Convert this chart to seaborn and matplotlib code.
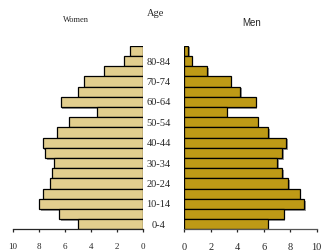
import matplotlib
matplotlib.use("Agg")
import matplotlib.pyplot as plt
import matplotlib.patheffects as pe
import seaborn as sns
import pandas as pd

# age groups, bottom to top
ages = ["0-4", "5-9", "10-14", "15-19", "20-24", "25-29", "30-34", "35-39",
        "40-44", "45-49", "50-54", "55-59", "60-64", "65-69", "70-74",
        "75-79", "80-84", "85+"]
women = [5.0, 6.4, 7.95, 7.7, 7.1, 6.95, 6.8, 7.5, 7.7, 6.6,
         5.7, 3.5, 6.3, 5.0, 4.5, 3.0, 1.4, 1.0]
men = [6.3, 7.5, 9.05, 8.7, 7.85, 7.4, 7.0, 7.4, 7.7, 6.35,
       5.55, 3.2, 5.4, 4.2, 3.5, 1.75, 0.55, 0.28]
xticks = [0, 2, 4, 6, 8, 10]

df = pd.DataFrame({"age": ages, "women": women, "men": men})
order = ages[::-1]

sns.set_style("white")
plt.rcParams["font.family"] = ["Liberation Serif", "DejaVu Serif"]

fig = plt.figure(figsize=(3.22, 2.52), dpi=100)
ax_w = fig.add_axes([0.0394, 0.0893, 0.4037, 0.729])
ax_m = fig.add_axes([0.5724, 0.0893, 0.4112, 0.729])

shadow = [pe.SimplePatchShadow(offset=(1.2, -1.2), shadow_rgbFace="#808080", alpha=0.8), pe.Normal()]

sns.barplot(data=df, x="women", y="age", order=order, orient="h", ax=ax_w,
            color="#E2CE8E", saturation=1, width=1, edgecolor="black", linewidth=0.9)
sns.barplot(data=df, x="men", y="age", order=order, orient="h", ax=ax_m,
            color="#BE9A16", saturation=1, width=1, edgecolor="black", linewidth=0.9)

for ax in (ax_w, ax_m):
    for p in ax.patches:
        p.set_path_effects(shadow)
    ax.set_xlim(0, 10)
    ax.set_ylim(len(ages) - 0.5, -0.5)
    ax.set_xticks(xticks)
    ax.set_xlabel("")
    ax.set_ylabel("")
    for s in ["top", "right", "left"]:
        ax.spines[s].set_visible(False)
    ax.spines["bottom"].set_linewidth(0.9)
    ax.tick_params(axis="x", bottom=True, direction="out", length=2.5, width=0.9)
    ax.tick_params(axis="y", left=False)

ax_w.set_xlim(10, 0)
ax_w.set_yticklabels([])
ax_w.tick_params(axis="x", labelsize=6.5, pad=7)
ax_m.spines["bottom"].set_color("#555555")
ax_m.tick_params(axis="x", labelsize=7.5, pad=7)

# y labels: every other age group, centred in the gap
labels = [a if ages.index(a) % 2 == 0 else "" for a in order]
ax_m.set_yticks(range(len(order)))
ax_m.set_yticklabels(labels, fontsize=7.5, ha="center")
ax_m.tick_params(axis="y", pad=15)

fig.text(0.482, 0.945, "Age", fontsize=7.5, ha="center", va="center")
fig.text(0.235, 0.92, "Women", fontsize=6, ha="center", va="center")
fig.text(0.78, 0.91, "Men", fontsize=7, ha="center", va="center", family="Liberation Sans")

fig.savefig("out.png", dpi=100)
